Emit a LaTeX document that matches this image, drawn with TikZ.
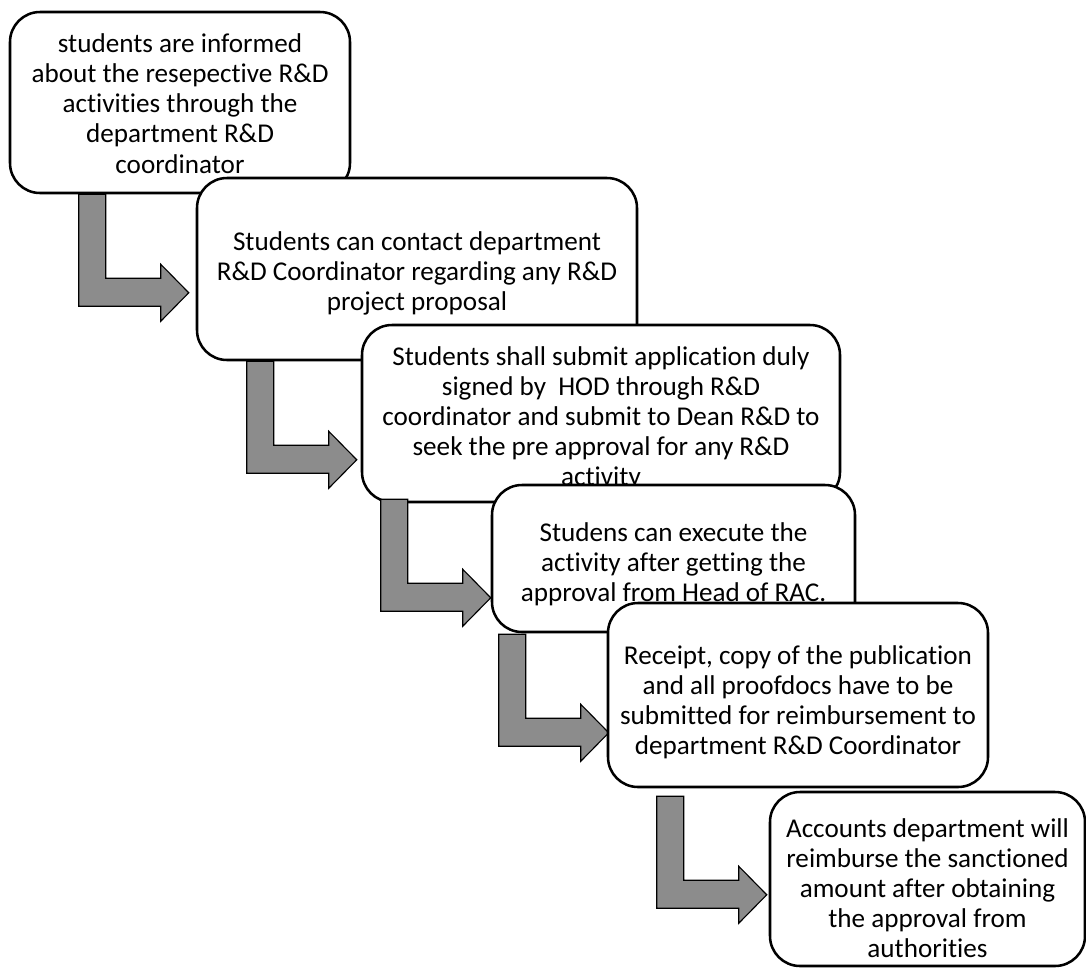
\documentclass[tikz,border=0pt]{standalone}
\usepackage{fontspec}
\setmainfont{Carlito}[Ligatures=NoCommon]
\usetikzlibrary{fit,calc}

\tikzset{
  box/.style={draw, line width=1.8pt, rounded corners=0.75cm, fill=white, inner sep=0pt},
  boxtext/.style={align=center, inner sep=0pt, font=\fontsize{19.3}{21.4}\selectfont},
  arrowfill/.style={draw, line width=0.8pt, fill=black!45},
  bentarrow/.pic={
    \draw[arrowfill] (0,0) -- (27,0) -- (27,84) -- (82,84) -- (82,70)
      -- (110,98.5) -- (82,127) -- (82,112) -- (0,112) -- cycle;
  }
}

\begin{document}
\begin{tikzpicture}[x=0.025cm, y=-0.025cm]
  \useasboundingbox (0,0) rectangle (1086,975);

  % Step 1
  \node[box, fit={(10,12) (350,193)}] (inform) {};
  \node[boxtext] at ($(inform.center)+(0,1)$) {students are informed\\about the resepective R\&D\\activities through the\\department R\&D\\coordinator};
  \pic at ($(inform.south west)+(70,0)$) {bentarrow};

  % Step 2
  \node[box, fit={(197,178) (637,360)}] (contact) {};
  \node[boxtext] at ($(contact.center)+(0,4)$) {Students can contact department\\R\&D Coordinator regarding any R\&D\\project proposal};
  \pic at ($(contact.south west)+(51,0)$) {bentarrow};

  % Step 3
  \node[box, fit={(362,325) (840,502)}] (apply) {};
  \node[boxtext] at ($(apply.center)+(0,5)$) {Students shall submit application duly\\signed by~ HOD through R\&D\\coordinator and submit to Dean R\&D to\\seek the pre approval for any R\&D\\activity};
  \pic at ($(apply.south west)+(20,-4)$) {bentarrow};

  % Step 4
  \node[box, fit={(492,485) (855,632)}] (execute) {};
  \node[boxtext] at ($(execute.center)+(0,6)$) {Studens can execute the\\activity after getting the\\approval from Head of RAC.};
  \pic at ($(execute.south west)+(8,1)$) {bentarrow};

  % Step 5
  \node[box, fit={(608,603) (988,787)}] (receipt) {};
  \node[boxtext] at ($(receipt.center)+(0,7)$) {Receipt, copy of the publication\\and all proofdocs have to be\\submitted for reimbursement to\\department R\&D Coordinator};
  \pic at ($(receipt.south west)+(50,8)$) {bentarrow};

  % Step 6
  \node[box, fit={(770,792) (1085,966)}] (reimburse) {};
  \node[boxtext] at ($(reimburse.center)+(0,9)$) {Accounts department will\\reimburse the sanctioned\\amount after obtaining\\the approval from\\authorities};
\end{tikzpicture}
\end{document}
